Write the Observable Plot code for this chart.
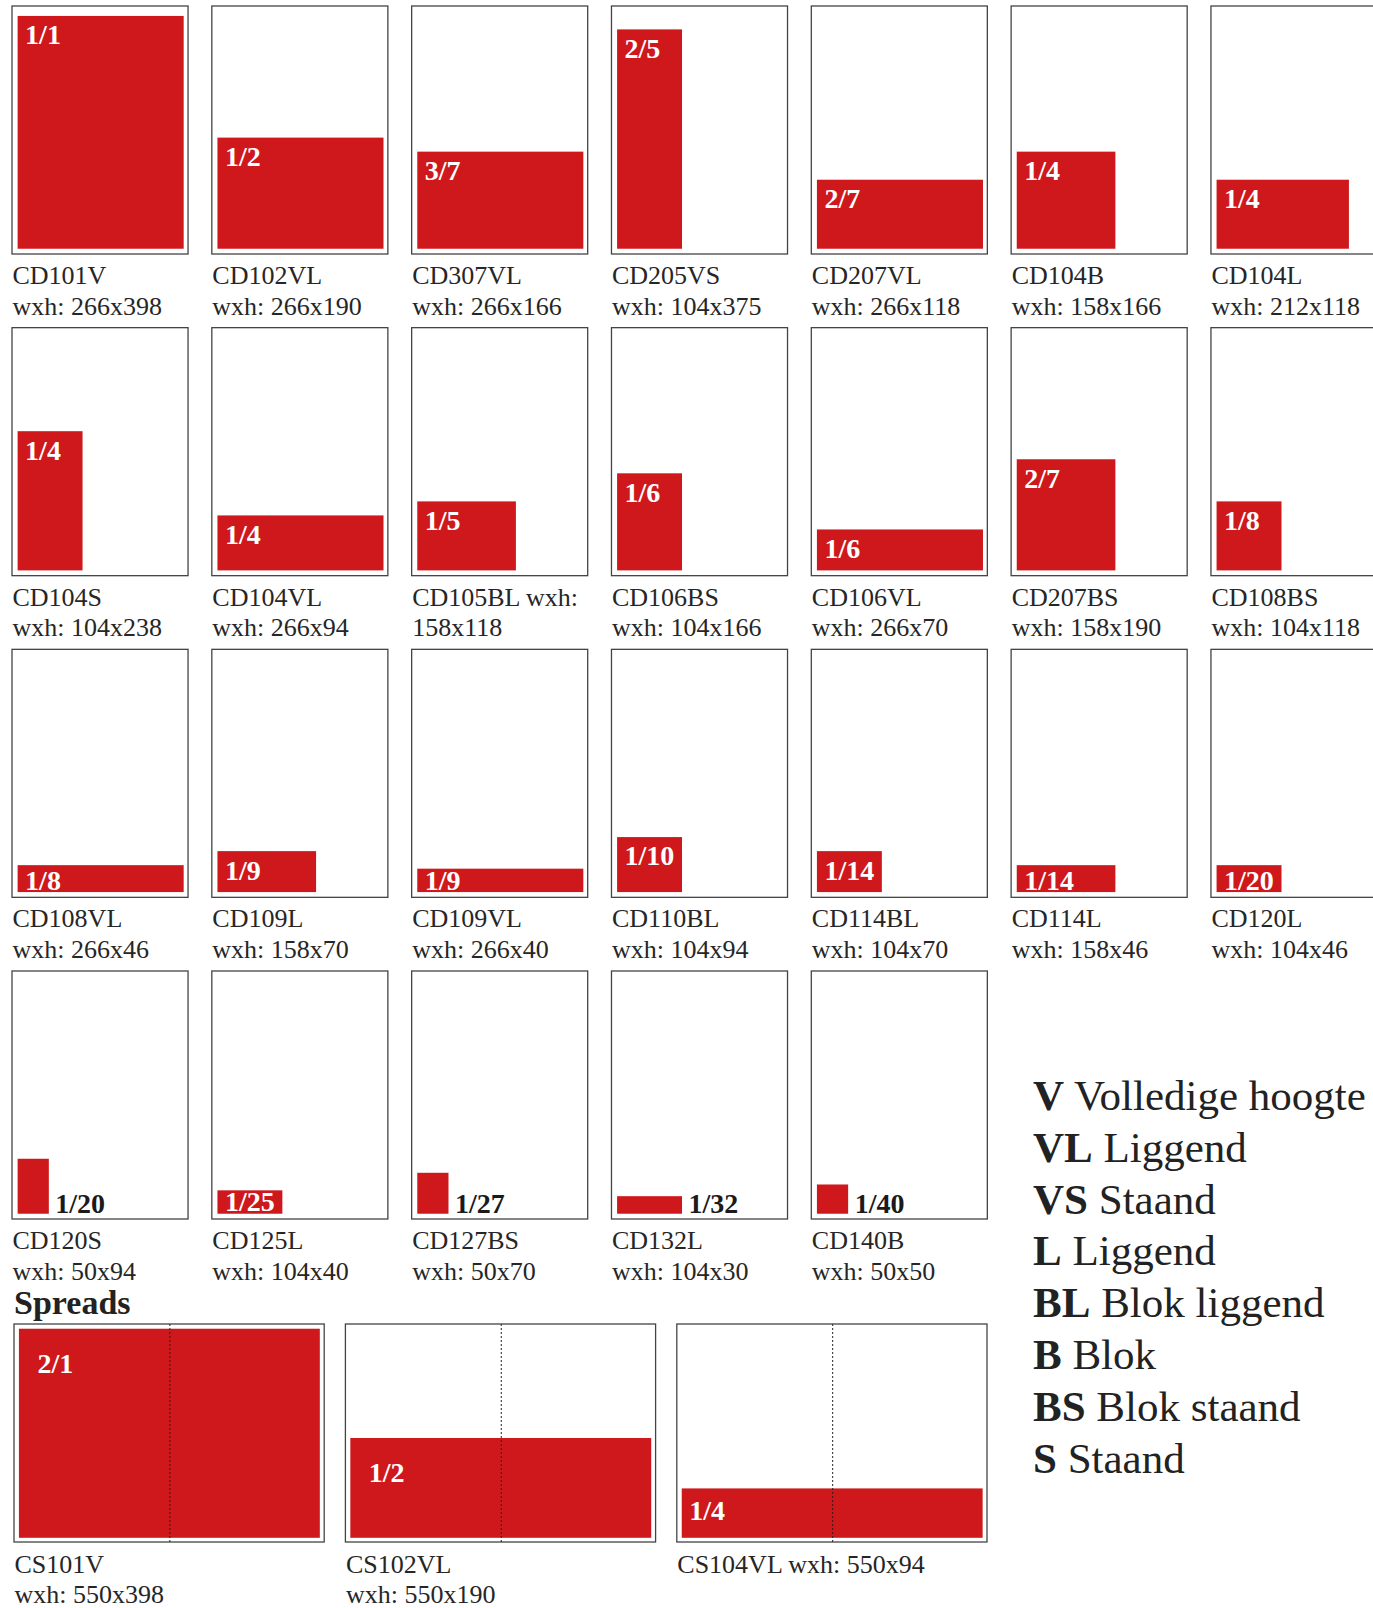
<!DOCTYPE html>
<html>
<head>
<meta charset="utf-8">
<script src="https://cdn.jsdelivr.net/npm/d3@7"></script>
<script src="https://cdn.jsdelivr.net/npm/@observablehq/plot@0.6"></script>
<style>
  html, body { margin: 0; padding: 0; background: #fff; }
  #page { position: relative; width: 1373px; height: 1608px; overflow: hidden; }
  #grid { position: absolute; left: 0; top: 0; }
  #spreads { position: absolute; left: 0; top: 1285px; }
  #spreadsTitle { position: absolute; left: 14px; top: 1286px; font: bold 34px/34px "Liberation Serif", serif; color: #222; }
  #legend { position: absolute; left: 1033px; top: 1070px; font: 43px/51.8px "Liberation Serif", serif; color: #222; white-space: nowrap; }
  #legend b { font-weight: bold; }
  svg { overflow: visible; }
</style>
</head>
<body>
<div id="page">
  <div id="grid"></div>
  <div id="spreadsTitle">Spreads</div>
  <div id="spreads"></div>
  <div id="legend"></div>
</div>
<script>
// ---------- DATA ----------
// Single-page formats (read row by row, 7 per row)
const codes = [
  "CD101V", "CD102VL", "CD307VL", "CD205VS", "CD207VL", "CD104B", "CD104L",
  "CD104S", "CD104VL", "CD105BL", "CD106BS", "CD106VL", "CD207BS", "CD108BS",
  "CD108VL", "CD109L", "CD109VL", "CD110BL", "CD114BL", "CD114L", "CD120L",
  "CD120S", "CD125L", "CD127BS", "CD132L", "CD140B"
];
const widths = [
  266, 266, 266, 104, 266, 158, 212,
  104, 266, 158, 104, 266, 158, 104,
  266, 158, 266, 104, 104, 158, 104,
  50, 104, 50, 104, 50
];
const heights = [
  398, 190, 166, 375, 118, 166, 118,
  238, 94, 118, 166, 70, 190, 118,
  46, 70, 40, 94, 70, 46, 46,
  94, 40, 70, 30, 50
];
const fractions = [
  "1/1", "1/2", "3/7", "2/5", "2/7", "1/4", "1/4",
  "1/4", "1/4", "1/5", "1/6", "1/6", "2/7", "1/8",
  "1/8", "1/9", "1/9", "1/10", "1/14", "1/14", "1/20",
  "1/20", "1/25", "1/27", "1/32", "1/40"
];
// caption that wraps after "wxh:" instead of after the code
const wrapAfterWxh = ["CD105BL"];

// Spreads (double pages)
const spreadCodes = ["CS101V", "CS102VL", "CS104VL"];
const spreadWidths = [550, 550, 550];
const spreadHeights = [398, 190, 94];
const spreadFractions = ["2/1", "1/2", "1/4"];
const singleLineCaption = ["CS104VL"];

// Legend
const legendCodes = ["V", "VL", "VS", "L", "BL", "B", "BS", "S"];
const legendNames = ["Volledige hoogte", "Liggend", "Staand", "Liggend", "Blok liggend", "Blok", "Blok staand", "Staand"];

// ---------- BUILD ----------
const RED = "#ce181b";
const INK = "#262626";
const FONT = "Liberation Serif";

function caption(code, w, h) {
  if (wrapAfterWxh.includes(code)) return `${code} wxh:\n${w}x${h}`;
  if (singleLineCaption.includes(code)) return `${code} wxh: ${w}x${h}`;
  return `${code}\nwxh: ${w}x${h}`;
}

const pages = codes.map((code, i) => ({
  code, w: widths[i], h: heights[i], frac: fractions[i],
  col: i % 7, row: Math.floor(i / 7),
  caption: caption(code, widths[i], heights[i])
}));

// page sheet extent (mm) including the white border around the ad area
const pageX = [-9, 273];
const pageY = [-9, 415];

const isOutside = d => d.w <= 50 || d.h <= 30;
const isLow = d => !isOutside(d) && d.h < 50;
const isTop = d => !isOutside(d) && d.h >= 50;

const gridPlot = Plot.plot({
  width: 1373,
  height: 1320,
  margin: 0,
  style: { background: "transparent", overflow: "visible" },
  fx: { domain: d3.range(7), range: [12, 1387], paddingInner: 0.119, paddingOuter: 0, round: false, axis: null },
  fy: { domain: d3.range(4), range: [6, 1219], paddingInner: 0.229, paddingOuter: 0, round: false, axis: null },
  x: { domain: pageX, axis: null },
  y: { domain: pageY, axis: null },
  marks: [
    Plot.rect(pages, { x1: pageX[0], x2: pageX[1], y1: pageY[0], y2: pageY[1], fx: "col", fy: "row",
      fill: "white", stroke: "#444", strokeWidth: 1.3 }),
    Plot.rect(pages, { x1: 0, x2: "w", y1: 0, y2: "h", fx: "col", fy: "row", fill: RED }),
    Plot.text(pages.filter(isTop), { x: 0, y: "h", fx: "col", fy: "row", text: "frac",
      textAnchor: "start", lineAnchor: "top", dx: 7, dy: 8, fill: "white",
      fontFamily: FONT, fontWeight: "bold", fontSize: 28 }),
    Plot.text(pages.filter(isLow), { x: 0, y: 0, fx: "col", fy: "row", text: "frac",
      textAnchor: "start", lineAnchor: "bottom", dx: 7, dy: -3, fill: "white",
      fontFamily: FONT, fontWeight: "bold", fontSize: 28 }),
    Plot.text(pages.filter(isOutside), { x: "w", y: 0, fx: "col", fy: "row", text: "frac",
      textAnchor: "start", lineAnchor: "bottom", dx: 6, dy: -1, fill: "#1a1a1a",
      fontFamily: FONT, fontWeight: "bold", fontSize: 28 }),
    Plot.text(pages, { x: pageX[0], y: pageY[0], fx: "col", fy: "row", text: "caption",
      textAnchor: "start", lineAnchor: "top", dy: 8, lineHeight: 1.17, fill: INK,
      fontFamily: FONT, fontSize: 26 })
  ]
});
document.getElementById("grid").append(gridPlot);

// ---------- SPREADS ----------
const spreads = spreadCodes.map((code, i) => ({
  code, w: spreadWidths[i], h: spreadHeights[i], frac: spreadFractions[i], col: i,
  caption: caption(code, spreadWidths[i], spreadHeights[i])
}));
const spreadX = [-9, 558];
const spreadY = [-8, 407];
const tallSpread = d => d.h >= 100;

const spreadPlot = Plot.plot({
  width: 1000,
  height: 323,
  marginTop: 39,
  marginBottom: 66,
  marginLeft: 0,
  marginRight: 0,
  style: { background: "transparent", overflow: "visible" },
  fx: { domain: d3.range(3), range: [14, 987], paddingInner: 0.064, paddingOuter: 0, round: false, axis: null },
  x: { domain: spreadX, axis: null },
  y: { domain: spreadY, axis: null },
  marks: [
    Plot.rect(spreads, { x1: spreadX[0], x2: spreadX[1], y1: spreadY[0], y2: spreadY[1], fx: "col",
      fill: "white", stroke: "#444", strokeWidth: 1.3 }),
    Plot.rect(spreads, { x1: 0, x2: "w", y1: 0, y2: "h", fx: "col", fill: RED }),
    Plot.ruleX(spreads, { x: d => d.w / 2, y1: spreadY[0], y2: spreadY[1], fx: "col",
      stroke: "#222", strokeWidth: 1, strokeDasharray: "2,2" }),
    Plot.text(spreads.filter(tallSpread), { x: 0, y: "h", fx: "col", text: "frac",
      textAnchor: "start", lineAnchor: "top", dx: 18, dy: 24, fill: "white",
      fontFamily: FONT, fontWeight: "bold", fontSize: 28 }),
    Plot.text(spreads.filter(d => !tallSpread(d)), { x: 0, y: d => d.h / 2, fx: "col", text: "frac",
      textAnchor: "start", lineAnchor: "middle", dx: 7, dy: -3, fill: "white",
      fontFamily: FONT, fontWeight: "bold", fontSize: 28 }),
    Plot.text(spreads, { x: spreadX[0], y: spreadY[0], fx: "col", text: "caption",
      textAnchor: "start", lineAnchor: "top", dy: 9, lineHeight: 1.15, fill: INK,
      fontFamily: FONT, fontSize: 26 })
  ]
});
document.getElementById("spreads").append(spreadPlot);

// ---------- LEGEND ----------
const legend = document.getElementById("legend");
legendCodes.forEach((c, i) => {
  const line = document.createElement("div");
  const b = document.createElement("b");
  b.textContent = c;
  line.append(b, " " + legendNames[i]);
  legend.append(line);
});
</script>
</body>
</html>
